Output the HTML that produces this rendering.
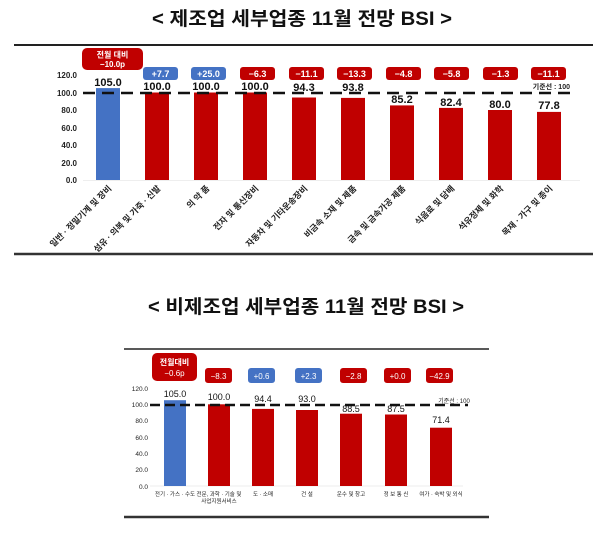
<!DOCTYPE html>
<html><head><meta charset="utf-8"><style>
body{margin:0;background:#fff;width:600px;height:530px;overflow:hidden}
svg{font-family:"Liberation Sans","Noto Sans CJK KR",sans-serif}
</style></head><body>
<svg width="600" height="530" viewBox="0 0 600 530" xmlns="http://www.w3.org/2000/svg">
<text x="302" y="25" text-anchor="middle" font-size="19" font-weight="bold" fill="#111" textLength="300" lengthAdjust="spacingAndGlyphs">&lt; 제조업 세부업종 11월 전망 BSI &gt;</text>
<line x1="14" y1="45" x2="593" y2="45" stroke="#222" stroke-width="2"/>
<line x1="14" y1="254" x2="593" y2="254" stroke="#333" stroke-width="2.5"/>
<g font-size="8" font-weight="bold" fill="#222" text-anchor="end">
<text x="77" y="183">0.0</text><text x="77" y="166">20.0</text><text x="77" y="148">40.0</text><text x="77" y="131">60.0</text><text x="77" y="113">80.0</text><text x="77" y="96">100.0</text><text x="77" y="78">120.0</text>
</g>
<line x1="83" y1="180.5" x2="580" y2="180.5" stroke="#eee"/>
<rect x="96" y="88.1" width="24" height="91.9" fill="#4472c4"/>
<rect x="145" y="92.5" width="24" height="87.5" fill="#c00000"/>
<rect x="194" y="92.5" width="24" height="87.5" fill="#c00000"/>
<rect x="243" y="92.5" width="24" height="87.5" fill="#c00000"/>
<rect x="292" y="97.5" width="24" height="82.5" fill="#c00000"/>
<rect x="341" y="97.9" width="24" height="82.1" fill="#c00000"/>
<rect x="390" y="105.4" width="24" height="74.6" fill="#c00000"/>
<rect x="439" y="107.9" width="24" height="72.1" fill="#c00000"/>
<rect x="488" y="110" width="24" height="70" fill="#c00000"/>
<rect x="537" y="111.9" width="24" height="68.1" fill="#c00000"/>
<line x1="83" y1="93" x2="577" y2="93" stroke="#111" stroke-width="2.5" stroke-dasharray="12,7"/>
<g font-size="11" font-weight="bold" fill="#111" text-anchor="middle">
<text x="108" y="86">105.0</text><text x="157" y="90">100.0</text><text x="206" y="90">100.0</text><text x="255" y="90">100.0</text><text x="304" y="91">94.3</text><text x="353" y="91">93.8</text><text x="402" y="103">85.2</text><text x="451" y="106">82.4</text><text x="500" y="108">80.0</text><text x="549" y="109">77.8</text>
</g>
<text x="570" y="89" font-size="7" font-weight="bold" fill="#222" text-anchor="end">기준선 : 100</text>
<rect x="82" y="48" width="61" height="22" rx="5" fill="#c00000"/>
<text x="112.5" y="57.5" font-size="8" font-weight="bold" fill="#fff" text-anchor="middle">전월 대비</text>
<text x="112.5" y="67" font-size="8" font-weight="bold" fill="#fff" text-anchor="middle">−10.0p</text>
<g font-size="9" font-weight="bold" fill="#fff" text-anchor="middle">
<rect x="143" y="67" width="35" height="13" rx="3" fill="#4472c4"/><text x="160.5" y="77">+7.7</text>
<rect x="191" y="67" width="35" height="13" rx="3" fill="#4472c4"/><text x="208.5" y="77">+25.0</text>
<rect x="240" y="67" width="35" height="13" rx="3" fill="#c00000"/><text x="257.5" y="77">−6.3</text>
<rect x="289" y="67" width="35" height="13" rx="3" fill="#c00000"/><text x="306.5" y="77">−11.1</text>
<rect x="337" y="67" width="35" height="13" rx="3" fill="#c00000"/><text x="354.5" y="77">−13.3</text>
<rect x="386" y="67" width="35" height="13" rx="3" fill="#c00000"/><text x="403.5" y="77">−4.8</text>
<rect x="434" y="67" width="35" height="13" rx="3" fill="#c00000"/><text x="451.5" y="77">−5.8</text>
<rect x="483" y="67" width="35" height="13" rx="3" fill="#c00000"/><text x="500.5" y="77">−1.3</text>
<rect x="531" y="67" width="35" height="13" rx="3" fill="#c00000"/><text x="548.5" y="77">−11.1</text>
</g>
<g font-size="8.5" font-weight="bold" fill="#222" text-anchor="end">
<text transform="translate(112,189) rotate(-45)">일반 · 정밀기계 및 장비</text>
<text transform="translate(161,189) rotate(-45)">섬유 · 의복 및 가죽 · 신발</text>
<text transform="translate(210,189) rotate(-45)">의 약 품</text>
<text transform="translate(259,189) rotate(-45)">전자 및 통신장비</text>
<text transform="translate(308,189) rotate(-45)">자동차 및 기타운송장비</text>
<text transform="translate(357,189) rotate(-45)">비금속 소재 및 제품</text>
<text transform="translate(406,189) rotate(-45)">금속 및 금속가공 제품</text>
<text transform="translate(455,189) rotate(-45)">식음료 및 담배</text>
<text transform="translate(504,189) rotate(-45)">석유정제 및 화학</text>
<text transform="translate(553,189) rotate(-45)">목재 · 가구 및 종이</text>
</g>

<text x="306" y="313" text-anchor="middle" font-size="19" font-weight="bold" fill="#111" textLength="316" lengthAdjust="spacingAndGlyphs">&lt; 비제조업 세부업종 11월 전망 BSI &gt;</text>
<line x1="124" y1="349" x2="489" y2="349" stroke="#222" stroke-width="1.5"/>
<line x1="124" y1="517" x2="489" y2="517" stroke="#333" stroke-width="2.5"/>
<g font-size="6.5" fill="#222" text-anchor="end">
<text x="148" y="489">0.0</text><text x="148" y="472">20.0</text><text x="148" y="456">40.0</text><text x="148" y="440">60.0</text><text x="148" y="423">80.0</text><text x="148" y="407">100.0</text><text x="148" y="391">120.0</text>
</g>
<line x1="150" y1="486" x2="463" y2="486" stroke="#eee"/>
<rect x="164" y="400.2" width="22" height="85.8" fill="#4472c4"/>
<rect x="208" y="404.3" width="22" height="81.7" fill="#c00000"/>
<rect x="252" y="408.9" width="22" height="77.1" fill="#c00000"/>
<rect x="296" y="410" width="22" height="76" fill="#c00000"/>
<rect x="340" y="413.7" width="22" height="72.3" fill="#c00000"/>
<rect x="385" y="414.5" width="22" height="71.5" fill="#c00000"/>
<rect x="430" y="427.7" width="22" height="58.3" fill="#c00000"/>
<line x1="150" y1="405" x2="468" y2="405" stroke="#111" stroke-width="2.5" stroke-dasharray="10,5"/>
<g font-size="9" fill="#111" text-anchor="middle">
<text x="175" y="397">105.0</text><text x="219" y="400">100.0</text><text x="263" y="402">94.4</text><text x="307" y="402">93.0</text><text x="351" y="412">88.5</text><text x="396" y="412">87.5</text><text x="441" y="423">71.4</text>
</g>
<text x="454" y="403" font-size="6" fill="#222" text-anchor="middle">기준선 : 100</text>
<rect x="152" y="353" width="45" height="28" rx="5" fill="#c00000"/>
<text x="174.5" y="365" font-size="8" font-weight="bold" fill="#fff" text-anchor="middle">전월대비</text>
<text x="174.5" y="376" font-size="8" fill="#fff" text-anchor="middle">−0.6p</text>
<g font-size="8" fill="#fff" text-anchor="middle">
<rect x="205" y="368" width="27" height="15" rx="3" fill="#c00000"/><text x="218.5" y="379">−8.3</text>
<rect x="248" y="368" width="27" height="15" rx="3" fill="#4472c4"/><text x="261.5" y="379">+0.6</text>
<rect x="295" y="368" width="27" height="15" rx="3" fill="#4472c4"/><text x="308.5" y="379">+2.3</text>
<rect x="340" y="368" width="27" height="15" rx="3" fill="#c00000"/><text x="353.5" y="379">−2.8</text>
<rect x="384" y="368" width="27" height="15" rx="3" fill="#c00000"/><text x="397.5" y="379">+0.0</text>
<rect x="426" y="368" width="27" height="15" rx="3" fill="#c00000"/><text x="439.5" y="379">−42.9</text>
</g>
<g font-size="5.5" fill="#222" text-anchor="middle">
<text x="175" y="496">전기 · 가스 · 수도</text>
<text x="219" y="496">전문, 과학 · 기술 및</text><text x="219" y="503">사업지원서비스</text>
<text x="263" y="496">도 · 소매</text>
<text x="307" y="496">건 설</text>
<text x="351" y="496">운수 및 창고</text>
<text x="396" y="496">정 보 통 신</text>
<text x="441" y="496">여가 · 숙박 및 외식</text>
</g>
</svg>
</body></html>
